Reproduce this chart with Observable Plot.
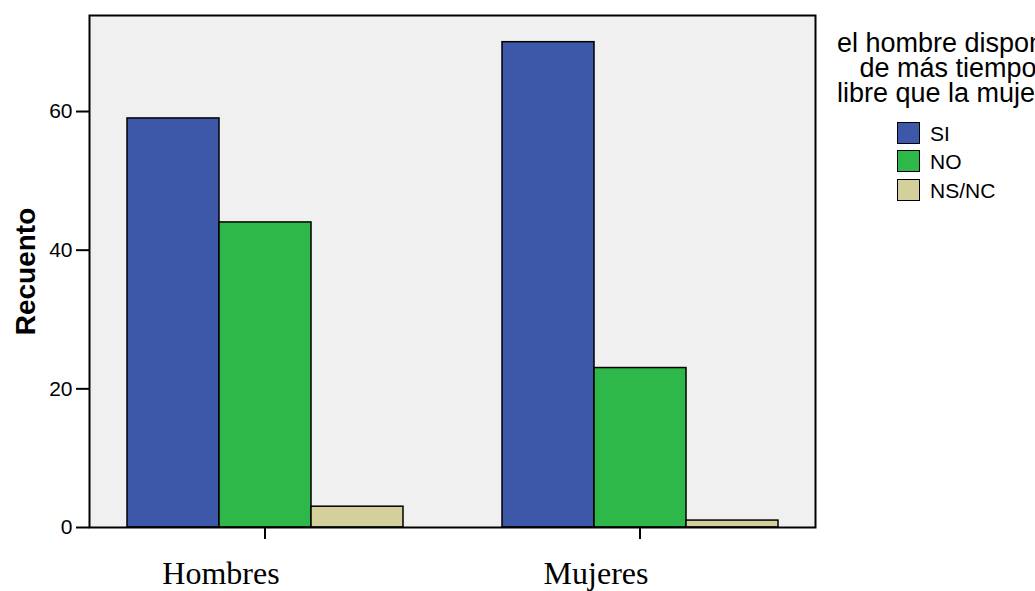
<!DOCTYPE html>
<html><head><meta charset="utf-8">
<script src="https://cdn.jsdelivr.net/npm/d3@7"></script>
<script src="https://cdn.jsdelivr.net/npm/@observablehq/plot@0.6"></script>
<style>
html,body{margin:0;padding:0;background:#fff;overflow:hidden;width:1035px;height:591px}
#wrap{position:relative;width:1035px;height:591px;overflow:hidden}
#wrap svg{position:absolute;left:0;top:0}
#legend{position:absolute;left:0;top:0;width:1035px;height:591px;overflow:hidden;font-family:"Liberation Sans",Arial,sans-serif;color:#000}
#ltitle{position:absolute;left:748px;top:31px;width:400px;text-align:center;font-size:27px;line-height:25px;white-space:nowrap}
.item{position:absolute;left:897px;height:23px;font-size:21px;line-height:23px;white-space:nowrap}
.sw{position:absolute;left:0;top:0;width:21px;height:20px;border:1.5px solid #000}
.lab{position:absolute;left:33px;top:0}
</style></head><body><div id="wrap"><div id="legend"><div id="ltitle"></div></div></div>
<script>
const groups = ["Hombres", "Mujeres"];
const series = ["SI", "NO", "NS/NC"];
const hombres = [59, 44, 3];
const mujeres = [70, 23, 1];
const colors = ["#3e58a9", "#2fb84a", "#d4d09b"];
const yTicks = [0, 20, 40, 60];
const yMax = 73.85;
const yLabel = "Recuento";
const legendTitle = ["el hombre dispone", "de más tiempo", "libre que la mujer?"];

const values = [hombres, mujeres];
const data = [];
groups.forEach((g, i) => series.forEach((s, j) => data.push({group: g, series: s, value: values[i][j]})));

const chart = Plot.plot({
  width: 1035, height: 591,
  marginLeft: 88, marginRight: 219, marginTop: 15, marginBottom: 64,
  style: {fontFamily: "'Liberation Sans', Arial, sans-serif", background: "transparent", color: "#000"},
  fx: {domain: groups, paddingInner: 0.0638, paddingOuter: 0, axis: null},
  x: {domain: series, paddingInner: 0, paddingOuter: 0.4, axis: null},
  y: {domain: [0, yMax], axis: null},
  color: {domain: series, range: colors},
  marks: [
    Plot.frame({facet: "super", fill: "#f0f0f0"}),
    Plot.barY(data, {fx: "group", x: "series", y: "value", fill: "series", stroke: "#000", strokeWidth: 1.5}),
    Plot.frame({facet: "super", stroke: "#000", strokeWidth: 2}),
    Plot.axisY({ticks: yTicks, tickSize: 13, tickPadding: 4, fontSize: 21, label: null, tickFormat: d => String(d), strokeWidth: 2}),
    Plot.axisFx({anchor: "bottom", tickSize: 12, tickFormat: () => "", label: null, strokeWidth: 2}),
    Plot.axisFx({anchor: "bottom", tickSize: 0, tickPadding: 34, fontSize: 32, dx: -44, fontFamily: "'Liberation Serif', 'Times New Roman', serif", label: null}),
    Plot.text([yLabel], {facet: "super", frameAnchor: "left", text: d => d, rotate: -90, dx: -63, textAnchor: "middle", fontSize: 28, fontWeight: "bold"})
  ]
});
document.getElementById("wrap").prepend(chart);

const lt = document.getElementById("ltitle");
lt.innerHTML = legendTitle.map(t => `<div>${t}</div>`).join("");
const leg = document.getElementById("legend");
const itemTops = [122, 150, 179];
series.forEach((s, i) => {
  const it = document.createElement("div");
  it.className = "item";
  it.style.top = itemTops[i] + "px";
  it.innerHTML = `<div class="sw" style="background:${colors[i]}"></div><div class="lab">${s}</div>`;
  leg.appendChild(it);
});
</script>
</body></html>
